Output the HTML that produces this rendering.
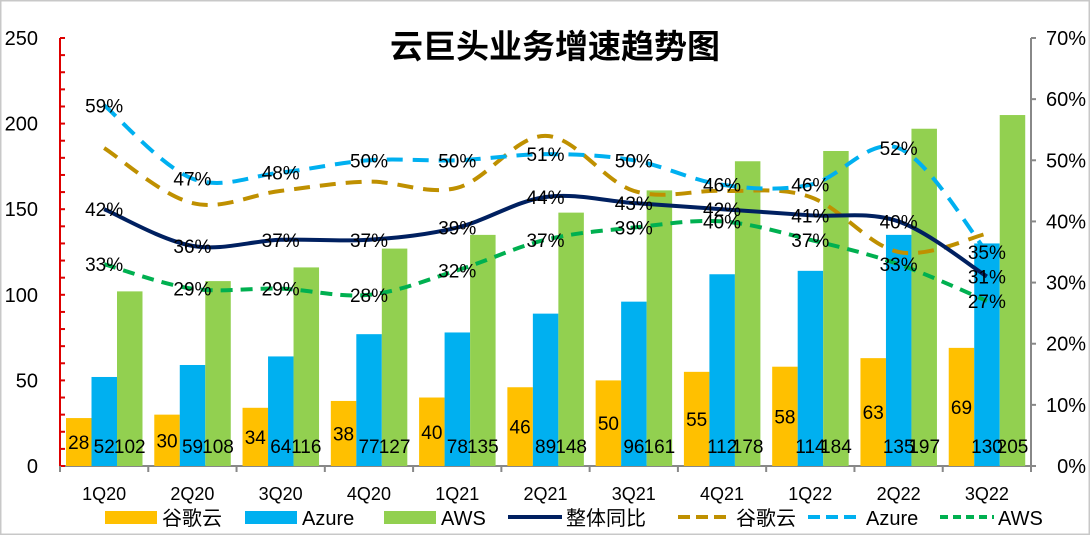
<!DOCTYPE html>
<html><head><meta charset="utf-8"><style>
html,body{margin:0;padding:0;background:#fff}
svg{display:block;font-family:"Liberation Sans","Noto Sans CJK SC",sans-serif}
</style></head><body>
<svg id="chart" width="1090" height="535" viewBox="0 0 1090 535">
<rect x="0.5" y="0.5" width="1089" height="534" fill="#fff" stroke="#c8c8c8" stroke-width="2"/>
<text x="555" y="58" text-anchor="middle" font-size="33" font-weight="bold" font-family="'Noto Sans CJK SC',sans-serif">云巨头业务增速趋势图</text>
<g id="axes"></g><g id="bars"></g><g id="lines"></g><g id="labels"></g><g id="legend"></g>
</svg>
<script>
const categories=["1Q20","2Q20","3Q20","4Q20","1Q21","2Q21","3Q21","4Q21","1Q22","2Q22","3Q22"];
const google=[28,30,34,38,40,46,50,55,58,63,69];
const azure=[52,59,64,77,78,89,96,112,114,135,130];
const aws=[102,108,116,127,135,148,161,178,184,197,205];
const totalGrowth=[42,36,37,37,39,44,43,42,41,40,31];
const googleGrowth=[52,43,45,46.5,45.5,54,45,45,44,35,38];
const azureGrowth=[59,47,48,50,50,51,50,46,46,52,35];
const awsGrowth=[33,29,29,28,32,37,39,40,37,33,27];
const leftTicks=[0,50,100,150,200,250];
const rightTicks=[0,10,20,30,40,50,60,70];

const NS="http://www.w3.org/2000/svg";
const X0=60,X1=1031,Y0=466,Y1=38;
const cw=(X1-X0)/categories.length;
const yL=v=>Y0-(v/250)*(Y0-Y1);
const yR=v=>Y0-(v/70)*(Y0-Y1);
const xc=i=>X0+cw*(i+0.5);
function mk(tag,attrs,parent){const e=document.createElementNS(NS,tag);for(const k in attrs)e.setAttribute(k,attrs[k]);document.getElementById(parent).appendChild(e);return e;}

let a=mk("line",{x1:X0,y1:Y0,x2:X1,y2:Y0,stroke:"#888","stroke-width":2},"axes");


a=mk("line",{x1:X0,y1:Y0,x2:X0,y2:Y1,stroke:"#d00","stroke-width":2},"axes");


a=mk("line",{x1:X1,y1:Y0,x2:X1,y2:Y1,stroke:"#888","stroke-width":2},"axes");


for(let v=0;v<=250;v+=10){mk("line",{x1:X0,y1:yL(v),x2:X0+5,y2:yL(v),stroke:"#d00","stroke-width":2},"axes");}
leftTicks.forEach(v=>{const t=mk("text",{x:38,y:yL(v)+7,"text-anchor":"end","font-size":20},"axes");t.textContent=v;

});
rightTicks.forEach(v=>{mk("line",{x1:X1,y1:yR(v),x2:X1+5,y2:yR(v),stroke:"#888","stroke-width":2},"axes");
const t=mk("text",{x:1086,y:yR(v)+7,"text-anchor":"end","font-size":20},"axes");t.textContent=v+"%";

});
for(let i=0;i<=categories.length;i++)mk("line",{x1:X0+cw*i,y1:Y0,x2:X0+cw*i,y2:Y0+6,stroke:"#888","stroke-width":2},"axes");
categories.forEach((c,i)=>{const t=mk("text",{x:xc(i),y:500,"text-anchor":"middle","font-size":18},"axes");t.textContent=c;

});

const bw=25.5;
const series=[[google,"#ffc000","google-bar"],[azure,"#00b0f0","azure-bar"],[aws,"#92d050","aws-bar"]];
categories.forEach((c,i)=>{
 series.forEach((s,j)=>{
  const x=X0+cw*i+6+bw*j, v=s[0][i];
  const r=mk("rect",{x:x,y:yL(v),width:bw,height:Y0-yL(v),fill:s[1]},"bars");
  
  
  const ty=j===0?(yL(v)+Y0)/2+7:453;
  const t=mk("text",{x:x+bw/2,y:ty,"text-anchor":"middle","font-size":19},"labels");t.textContent=v;
  
  
 });
});

function smooth(vals){const p=vals.map((v,i)=>[xc(i),yR(v)]);let d="M"+p[0][0]+","+p[0][1];
for(let i=0;i<p.length-1;i++){const p0=p[i-1]||p[i],p1=p[i],p2=p[i+1],p3=p[i+2]||p2;const t=0.17;
d+=" C"+(p1[0]+(p2[0]-p0[0])*t)+","+(p1[1]+(p2[1]-p0[1])*t)+" "+(p2[0]-(p3[0]-p1[0])*t)+","+(p2[1]-(p3[1]-p1[1])*t)+" "+p2[0]+","+p2[1];}return d;}
const lines=[[googleGrowth,"#bf9000","16 10",false,"google-growth-line"],[azureGrowth,"#00b0f0","16 10",true,"azure-growth-line"],[awsGrowth,"#00b050","12 8",true,"aws-growth-line"],[totalGrowth,"#002060",null,true,"total-growth-line"]];
lines.forEach(l=>{const at={d:smooth(l[0]),fill:"none",stroke:l[1],"stroke-width":4};if(l[2])at["stroke-dasharray"]=l[2];
const p=mk("path",at,"lines");


if(l[3])l[0].forEach((v,i)=>{const t=mk("text",{x:xc(i),y:yR(v)+7,"text-anchor":"middle","font-size":19},"labels");t.textContent=Math.round(v)+"%";

});});

const leg=[["rect","#ffc000","谷歌云",105],["rect","#00b0f0","Azure",245],["rect","#92d050","AWS",384],["line","#002060","整体同比",508,null],["line","#bf9000","谷歌云",678,"12 6"],["line","#00b0f0","Azure",808,"12 6"],["line","#00b050","AWS",940,"8 5"]];
leg.forEach(l=>{
 let m;
 if(l[0]==="rect"){m=mk("rect",{x:l[3],y:511,width:52,height:13,fill:l[1]},"legend");}
 else{const at={x1:l[3],y1:517,x2:l[3]+54,y2:517,stroke:l[1],"stroke-width":4};if(l[4])at["stroke-dasharray"]=l[4];m=mk("line",at,"legend");}
 
 
 const t=mk("text",{x:l[3]+(l[0]==="rect"?57:58),y:525,"font-size":20},"legend");t.textContent=l[2];
 
 
});
</script>
</body></html>
